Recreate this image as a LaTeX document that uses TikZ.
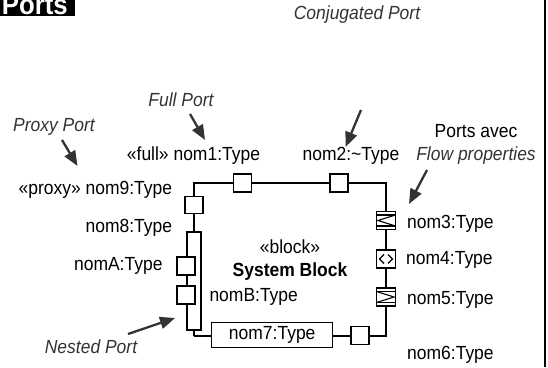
\documentclass[tikz,border=0pt]{standalone}
\usepackage{fontspec}
\setmainfont{Liberation Sans}[FakeStretch=0.92]
\usetikzlibrary{arrows.meta}
\begin{document}
\begin{tikzpicture}[x=1pt,y=-1pt,
  every node/.style={font=\fontsize{19}{22}\selectfont, inner sep=0pt},
  port/.style={draw, fill=white, line width=1.2pt, minimum width=18pt, minimum height=18pt},
  note/.style={font=\fontsize{19}{22}\selectfont\itshape, text=black!80},
  arr/.style={draw=black!80, line width=2.3pt, -{Triangle[length=15pt,width=12pt]}},
  wire/.style={line width=1.8pt},
  sym/.style={line width=1.1pt}]
\clip (0,0) rectangle (548,367);
\useasboundingbox (0,0) rectangle (548,367);
% title
\fill[black] (0,0) rectangle (75,16);
\node[anchor=base east, text=white, font=\fontsize{28}{30}\selectfont\bfseries] (title) at (68,14.5) {Ports};
% frame line on the right
\draw[line width=2.5pt] (545,0) -- (545,367);
% block outline
\coordinate (TL) at (194,183);
\coordinate (TR) at (386,183);
\coordinate (BR) at (386,336);
\coordinate (BL) at (194,336);
\draw[wire] (BL) -- (TL) -- (TR) -- (BR) -- (BL);
% block texts
\node (stereo) at (290,247) {«block»};
\node[font=\fontsize{19}{22}\selectfont\bfseries] (sysblock) at (290,272) {System Block};
% ports on top
\node[port] (p1) at (242.5,183) {};
\node[port] (p2) at (339,183) {};
\node[port, minimum height=17pt] (p9) at (194,205) {};
% nested port
\node[draw, fill=white, line width=1.2pt, minimum width=14pt, minimum height=98pt] (nested) at (194,281) {};
\node[port] (pA) at (186,266) {};
\node[port] (pB) at (186,295) {};
% nom7 and nom6
\node[draw, fill=white, line width=1.2pt, minimum width=121pt, minimum height=25pt] (p7) at (272.2,335) {nom7:Type};
\node[port] (p6) at (360,335.5) {};
% flow ports on the right
\node[port, minimum width=19pt] (p3) at (386,220.5) {};
\node[port, minimum width=19pt] (p4) at (386,259) {};
\node[port, minimum width=19pt] (p5) at (386,297) {};
\draw[sym] ([shift={(-9.5,-5.5)}]p3.center) -- ([shift={(9.5,-5.5)}]p3.center);
\draw[sym] ([shift={(-9.5,5.5)}]p3.center) -- ([shift={(9.5,5.5)}]p3.center);
\draw[sym] ([shift={(9.5,-5.5)}]p3.center) -- ([shift={(-8,0)}]p3.center) -- ([shift={(9.5,5.5)}]p3.center);
\draw[sym] ([shift={(-9.5,-5.5)}]p5.center) -- ([shift={(9.5,-5.5)}]p5.center);
\draw[sym] ([shift={(-9.5,5.5)}]p5.center) -- ([shift={(9.5,5.5)}]p5.center);
\draw[sym] ([shift={(-9.5,-5.5)}]p5.center) -- ([shift={(8,0)}]p5.center) -- ([shift={(-9.5,5.5)}]p5.center);
\draw[sym] ([shift={(-2,-4.5)}]p4.center) -- ([shift={(-6.5,0)}]p4.center) -- ([shift={(-2,4.5)}]p4.center);
\draw[sym] ([shift={(2,-4.5)}]p4.center) -- ([shift={(6.5,0)}]p4.center) -- ([shift={(2,4.5)}]p4.center);
% port labels
\node (l1) at (193.5,155.7) {«full» nom1:Type};
\node (l2) at (351,156) {nom2:\textasciitilde Type};
\node[anchor=east] (l9) at (172.3,190) {«proxy» nom9:Type};
\node[anchor=east] (l8) at (172.3,228) {nom8:Type};
\node[anchor=east] (lA) at (162.7,266) {nomA:Type};
\node[anchor=west] (lB) at (209.3,297) {nomB:Type};
\node[anchor=west] (l3) at (407,224) {nom3:Type};
\node[anchor=west] (l4) at (406,260) {nom4:Type};
\node[anchor=west] (l5) at (407,300) {nom5:Type};
\node[anchor=west] (l6) at (407,355) {nom6:Type};
% notes
\node[note] (nfull) at (181,99.5) {Full Port};
\node[note] (nproxy) at (54,127) {Proxy Port};
\node[note] (nconj) at (357,15) {Conjugated Port};
\node (nflow1) at (476,131) {Ports avec};
\node[note] (nflow2) at (476,156) {Flow properties};
\node[note] (nnest) at (91,346.5) {Nested Port};
% arrows
\coordinate (afs) at (190,114);   \coordinate (aft) at (205,140);
\coordinate (aps) at (62,140);    \coordinate (apt) at (77.5,166);
\coordinate (acs) at (361,110);   \coordinate (act) at (345.5,147);
\coordinate (aws) at (427,170);   \coordinate (awt) at (409,204);
\coordinate (ans) at (128,334);   \coordinate (ant) at (175,318);
\draw[arr] (afs) -- (aft);
\draw[arr] (aps) -- (apt);
\draw[arr] (acs) -- (act);
\draw[arr] (aws) -- (awt);
\draw[arr] (ans) -- (ant);
\end{tikzpicture}
\end{document}
